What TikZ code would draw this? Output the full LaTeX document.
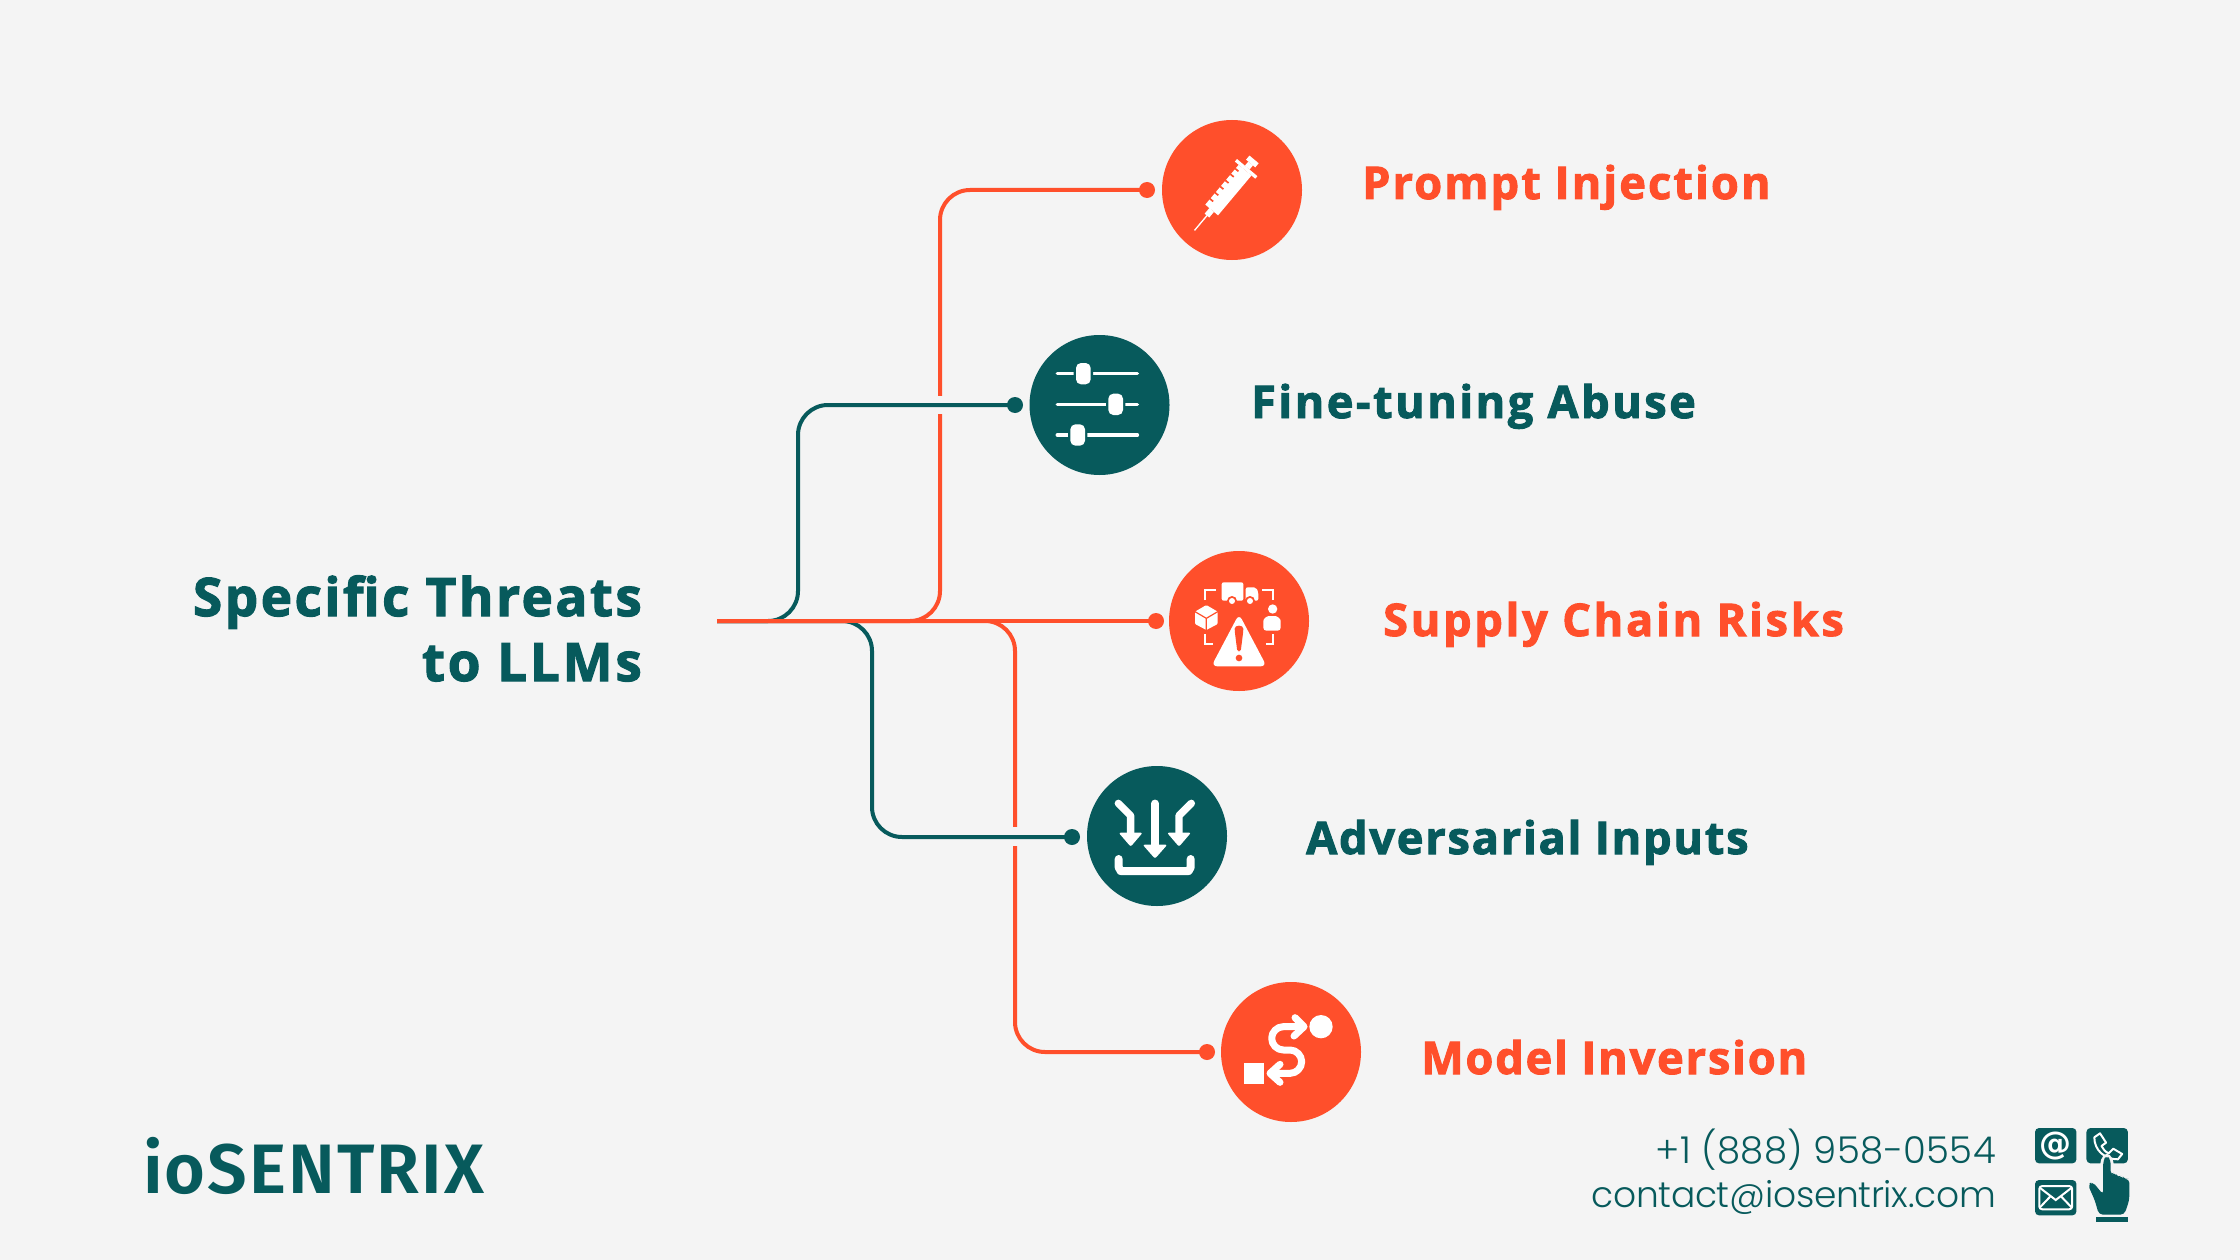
\documentclass[tikz,border=0pt]{standalone}
\usepackage{fontspec}
\newfontfamily\headfont[BoldFeatures={FakeBold=2.2}]{Open Sans}
\newfontfamily\logofont[LetterSpace=2.9]{Fira Sans SemiBold}
\newfontfamily\phonefont[LetterSpace=1]{Poppins Light}
\newfontfamily\mailfont[LetterSpace=-0.8]{Poppins Light}
\newcommand{\lsp}[2]{{\addfontfeature{LetterSpace=#1}#2}}
\definecolor{tealc}{HTML}{075A5C}
\definecolor{orangec}{HTML}{FF4F2B}
\definecolor{pagebg}{HTML}{F4F4F4}
\tikzset{
  disc/.style={circle,fill=#1,minimum size=140pt,inner sep=0pt,draw=none},
  dot/.style={circle,fill=#1,minimum size=16pt,inner sep=0pt,draw=none},
  conn/.style={draw=#1,line width=4pt,rounded corners=30pt},
  label/.style={anchor=base west,inner sep=0pt,text=#1,font=\headfont\bfseries\fontsize{45}{45}\selectfont},
  zoomframe/.style={x=0.33333pt,y=-0.33333pt},
  ink/.style={line cap=round,line join=round},
}
\begin{document}
\begin{tikzpicture}[x=1pt,y=-1pt]
\fill[pagebg] (0,0) rectangle (2240,1260);
\useasboundingbox (0,0) rectangle (2240,1260);

% discs
\node[disc=orangec] (n1) at (1232,190) {};
\node[disc=tealc]   (n2) at (1099.5,405) {};
\node[disc=orangec] (n3) at (1239,621) {};
\node[disc=tealc]   (n4) at (1157,836) {};
\node[disc=orangec] (n5) at (1291,1052) {};
% dots
\node[dot=orangec] (d1) at (1147,190) {};
\node[dot=tealc]   (d2) at (1015,405) {};
\node[dot=orangec] (d3) at (1156,621) {};
\node[dot=tealc]   (d4) at (1072,837) {};
\node[dot=orangec] (d5) at (1207,1052) {};
% connectors
\coordinate (root) at (717,621);
\coordinate (c1) at (940,190);
\coordinate (c2) at (798,405);
\coordinate (c4) at (872,837);
\coordinate (c5) at (1015,1052);
\draw[conn=orangec] (root) -| (c1) -- (d1.center);
\draw[conn=orangec] (root) -| (c5) -- (d5.center);
\fill[pagebg] (930,396) rectangle (950,414);
\fill[pagebg] (1005,827) rectangle (1025,846);
\draw[conn=tealc] (root) -| (c2) -- (d2.center);
\draw[conn=tealc] (root) -| (c4) -- (d4.center);
\draw[draw=orangec,line width=4pt] (root) -- (d3.center);

% labels
\node[label=orangec] (t1) at (1362,199) {\lsp{4.8}{Prompt Injection}};
\node[label=tealc]   (t2) at (1251,418) {\lsp{5.7}{Fine-tuning Abuse}};
\node[label=orangec] (t3) at (1383,636) {\lsp{6.2}{Supply Chain Risks}};
\node[label=tealc]   (t4) at (1306,854) {\lsp{4.1}{Adversarial Inputs}};
\node[label=orangec] (t5) at (1421,1074) {\lsp{4.2}{Model Inversion}};
\node[anchor=base east,inner sep=0pt,text=tealc,font=\headfont\bfseries\fontsize{53}{53}\selectfont] (h1) at (642,616) {\lsp{4.7}{Specific Threats}};
\node[anchor=base east,inner sep=0pt,text=tealc,font=\headfont\bfseries\fontsize{53}{53}\selectfont] (h2) at (642,681) {\lsp{5.3}{to LLMs}};
\node[anchor=base west,inner sep=0pt,text=tealc,font=\logofont\fontsize{70}{70}\selectfont] (logo) at (143,1193) {ioSENTRIX};
\node[anchor=base east,inner sep=0pt,text=tealc,font=\phonefont\fontsize{37}{37}\selectfont] (ph) at (1996,1163) {+1 (888) 958-0554};
\node[anchor=base east,inner sep=0pt,text=tealc,font=\mailfont\fontsize{36}{36}\selectfont] (em) at (1996,1207) {contact@iosentrix.com};

% syringe
\begin{scope}[shift={(1130,100)},zoomframe]
\begin{scope}[shift={(283.5,284)},rotate=50]
\fill[white] (-60,-25) rectangle (96,25);
\fill[white] (96,-40) rectangle (106,40);
\fill[white] (106,-9) rectangle (122,9);
\fill[white] (122,-18) rectangle (138,18);
\fill[white] (-82,-9) rectangle (-60,9);
\fill[white] (-140,-2) rectangle (-82,2);
\foreach \u in {-40,-16,8,32,56,78}{\fill[orangec] (\u,-26) rectangle (\u+5,-13);}
\end{scope}
\end{scope}

% sliders
\begin{scope}[shift={(1000,320)},zoomframe]
\foreach \y/\k in {161/250,253/347,345/233}{
  \draw[white,line width=3.6pt,line cap=round] (172,\y) -- (412,\y);
  \fill[tealc,rounded corners=5pt] (\k-29,\y-36) rectangle (\k+29,\y+36);
  \fill[white,rounded corners=5pt] (\k-22,\y-32) rectangle (\k+22,\y+32);
}
\end{scope}

% supply chain
\begin{scope}[shift={(1150,540)},zoomframe]
\fill[white,rounded corners=2pt] (215,127) rectangle (280,182);
\fill[white,rounded corners=2pt] (287,142) -- (318,142) -- (325,156) -- (325,182) -- (287,182) -- cycle;
\foreach \w in {246,300}{\fill[orangec] (\w,183) circle[radius=15]; \fill[white] (\w,183) circle[radius=9];}
\draw[white,line width=2.2pt] (166,180) -- (166,151) -- (197,151);
\draw[white,line width=2.2pt] (337,151) -- (368,151) -- (368,180);
\draw[white,line width=2.2pt] (166,283) -- (166,312) -- (188,312);
\draw[white,line width=2.2pt] (368,283) -- (368,312) -- (347,312);
\fill[white,rounded corners=1pt] (169,195) -- (203,215) -- (203,252) -- (169,270) -- (135,252) -- (135,215) -- cycle;
\draw[orangec,line width=1.2pt] (135,215) -- (169,235) -- (203,215) (169,235) -- (169,270);
\fill[white] (368,207) circle[radius=14];
\fill[white,rounded corners=3pt] (340,272) -- (340,252) .. controls (340,235) and (352,228) .. (366,228) .. controls (380,228) and (392,235) .. (392,252) -- (392,272) -- cycle;
\fill[orangec,rounded corners=8pt] (267,205) -- (168,388) -- (366,388) -- cycle;
\fill[white,rounded corners=6pt] (267,222) -- (184,379) -- (350,379) -- cycle;
\fill[orangec,rounded corners=2pt] (254,272) .. controls (254,254) and (280,254) .. (280,272) -- (272,335) -- (262,335) -- cycle;
\fill[orangec] (267,354) circle[radius=10];
\end{scope}

% adversarial
\begin{scope}[shift={(1070,760)},zoomframe]
\draw[white,line width=8pt,ink] (146,297) -- (146,322) -- (152,333) -- (356,333) -- (362,322) -- (362,297);
\draw[white,line width=7.4pt,ink] (255,130) -- (255,265);
\fill[white,rounded corners=2pt] (218,254) -- (292,254) -- (255,296) -- cycle;
\draw[white,line width=7.4pt,ink] (145,130) -- (182,167) -- (182,225);
\fill[white,rounded corners=2pt] (146,218) -- (218,218) -- (182,260) -- cycle;
\draw[white,line width=7.4pt,ink] (364,130) -- (327,167) -- (327,225);
\fill[white,rounded corners=2pt] (291,218) -- (363,218) -- (327,260) -- cycle;
\end{scope}

% model inversion
\begin{scope}[shift={(1210,975)},zoomframe]
\fill[white] (333,155) circle[radius=35];
\fill[white] (102,264) rectangle (163,326);
\draw[white,line width=7pt,ink] (278,155) -- (220,155) .. controls (201,155) and (185,171) .. (185,190) .. controls (185,209) and (201,225) .. (220,225) -- (240,225) .. controls (259,225) and (275,241) .. (275,260) .. controls (275,279) and (259,295) .. (240,295) -- (182,295);
\draw[white,line width=7pt,ink] (255,128) -- (282,155) -- (252,183);
\draw[white,line width=7pt,ink] (210,268) -- (180,295) -- (210,322);
\end{scope}

% contact icons (this crop of the reference is 2.8x across, 3x down)
\begin{scope}[shift={(1590,1100)},x=0.35714pt,y=-0.33333pt]
\fill[tealc,rounded corners=4pt] (1246,84) rectangle (1362,190);
\fill[tealc,rounded corners=4pt] (1390,84) rectangle (1506,190);
\fill[tealc,rounded corners=4pt] (1246,240) rectangle (1362,346);
\node[text=white,inner sep=0pt,font=\fontspec{DejaVu Sans}\bfseries\fontsize{32}{32}\selectfont] (at) at (1304,138) {@};
\draw[white,line width=2pt,rounded corners=3pt] (1258,258) rectangle (1350,328);
\draw[white,line width=2pt] (1258,262) -- (1304,300) -- (1350,262) (1258,324) -- (1290,288) (1350,324) -- (1318,288);
\draw[white,line width=2pt,line join=round] (1412,112) -- (1428,100) -- (1445,128) -- (1432,138) .. controls (1436,148) and (1444,156) .. (1452,160) -- (1465,146) -- (1490,162) -- (1478,178) .. controls (1440,178) and (1412,150) .. cycle;
\fill[pagebg,rounded corners=4pt] (1429,178) -- (1447,156) -- (1466,178) -- (1466,218) -- (1510,225) -- (1518,310) -- (1500,350) -- (1418,350) -- (1385,250) -- (1429,280) -- cycle;
\fill[tealc,rounded corners=4pt] (1437,180) -- (1447,166) -- (1458,180) -- (1458,226) -- (1470,216) -- (1478,234) -- (1490,226) -- (1497,240) -- (1510,236) -- (1510,300) -- (1496,344) -- (1425,344) -- (1413,300) -- (1394,254) -- (1407,245) -- (1437,284) -- cycle;
\fill[tealc] (1417,350) rectangle (1506,366);
\end{scope}
\end{tikzpicture}
\end{document}
